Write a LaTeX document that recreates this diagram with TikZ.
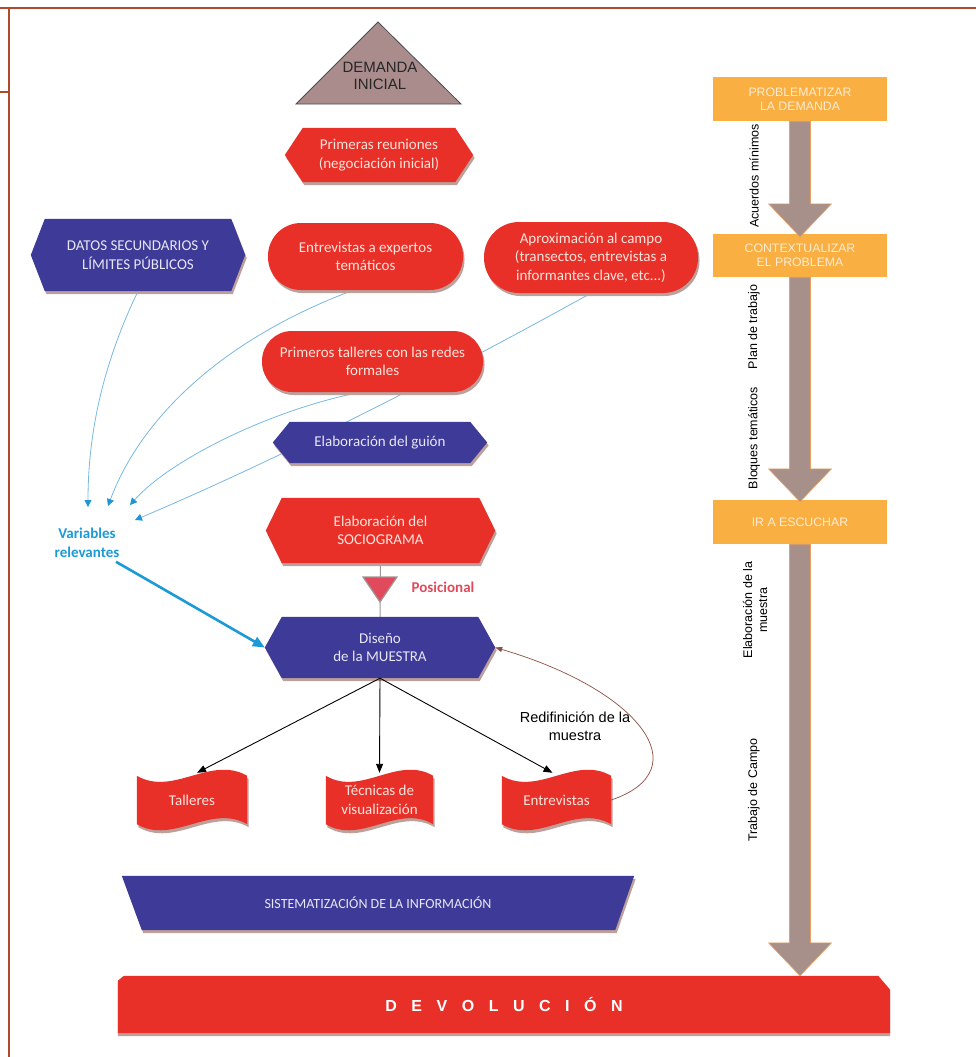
\documentclass[tikz,border=0pt]{standalone}
\usepackage{fontspec}
\setmainfont{Carlito}
\newfontfamily\arialf{Liberation Sans}
\usetikzlibrary{arrows.meta,calc,shadows}
\definecolor{redc}{RGB}{232,48,40}
\definecolor{redtext}{RGB}{252,228,220}
\definecolor{bluec}{RGB}{62,58,152}
\definecolor{bluetext}{RGB}{232,230,245}
\definecolor{orangec}{RGB}{249,175,66}
\definecolor{orangetext}{RGB}{253,236,210}
\definecolor{grayarr}{RGB}{168,144,138}
\definecolor{grayedge}{RGB}{232,160,100}
\definecolor{shadowc}{RGB}{190,160,155}
\definecolor{lblue}{RGB}{120,185,225}
\definecolor{tipblue}{RGB}{30,150,214}
\definecolor{varblue}{RGB}{28,154,216}
\definecolor{framec}{RGB}{176,74,42}
\definecolor{tric}{RGB}{170,140,140}
\definecolor{posc}{RGB}{224,74,92}
\definecolor{brownc}{RGB}{140,80,65}
\definecolor{graylinec}{RGB}{160,150,150}
\pgfdeclarelayer{bgpaper}
\pgfdeclarelayer{lines}
\pgfdeclarelayer{shapes}
\pgfsetlayers{bgpaper,lines,shapes,main}
\newcommand\hexshape[3]{%
 \begin{pgfonlayer}{shapes}
 \fill[shadowc,transform canvas={shift={(1.5pt,-3pt)}}] (#1.west) -- ($(#1.north west)+(#2,0)$) -- ($(#1.north east)+(-#2,0)$) -- (#1.east) -- ($(#1.south east)+(-#2,0)$) -- ($(#1.south west)+(#2,0)$) -- cycle;
 \fill[#3] (#1.west) -- ($(#1.north west)+(#2,0)$) -- ($(#1.north east)+(-#2,0)$) -- (#1.east) -- ($(#1.south east)+(-#2,0)$) -- ($(#1.south west)+(#2,0)$) -- cycle;
 \end{pgfonlayer}}
\newcommand\waveshape[1]{%
 \begin{pgfonlayer}{shapes}
 \fill[shadowc,transform canvas={shift={(1.5pt,-3pt)}}] (#1.north west) .. controls ($(#1.north west)!0.333!(#1.north east)+(0,21)$) and ($(#1.north west)!0.667!(#1.north east)+(0,-21)$) .. (#1.north east) -- (#1.south east) .. controls ($(#1.south west)!0.667!(#1.south east)+(0,-21)$) and ($(#1.south west)!0.333!(#1.south east)+(0,21)$) .. (#1.south west) -- cycle;
 \fill[redc] (#1.north west) .. controls ($(#1.north west)!0.333!(#1.north east)+(0,21)$) and ($(#1.north west)!0.667!(#1.north east)+(0,-21)$) .. (#1.north east) -- (#1.south east) .. controls ($(#1.south west)!0.667!(#1.south east)+(0,-21)$) and ($(#1.south west)!0.333!(#1.south east)+(0,21)$) .. (#1.south west) -- cycle;
 \end{pgfonlayer}}
\newcommand\fatarrow[2]{%
 \path[fill=grayarr, draw=grayedge, line width=0.6pt] let \p1=(#1), \p2=(#2) in (\x1-10.5pt,\y1) -- (\x1-10.5pt,\y2+33pt) -- (\x1-31.5pt,\y2+33pt) -- (\x1,\y2) -- (\x1+31.5pt,\y2+33pt) -- (\x1+10.5pt,\y2+33pt) -- (\x1+10.5pt,\y1) -- cycle;}
\newcommand\gapx{\hspace{14.5pt}}
\tikzset{
 redtxt/.style={text=redtext, align=center, font=\fontsize{15}{18.5}\selectfont},
 bluetxt/.style={text=bluetext, align=center, font=\fontsize{15}{18.5}\selectfont},
 hexbox/.style 2 args={rectangle, inner sep=0, minimum width=#1, minimum height=#2},
 stadium/.style 2 args={rectangle, inner sep=0, minimum width=#1, minimum height=#2, fill=redc, rounded corners=#2/2-0.5, drop shadow={shadow xshift=1.5pt, shadow yshift=-3pt, fill=shadowc, opacity=1}, redtxt},
 obox/.style={rectangle, inner sep=0, minimum width=174, minimum height=44, fill=orangec, text=orangetext, align=center, font=\arialf\fontsize{12.3}{14}\selectfont},
 rotlab/.style={rotate=90, inner sep=0, align=center, font=\arialf\fontsize{12.5}{15}\selectfont},
 lbarrow/.style={draw=lblue, line width=0.8pt, -{Triangle[length=7pt,width=7pt,fill=tipblue,color=tipblue]}},
 blkarrow/.style={draw=black, line width=0.9pt, -{Triangle[length=9pt,width=7pt]}},
}
\begin{document}
\begin{tikzpicture}[x=1pt,y=-1pt]
\useasboundingbox (0,0) rectangle (976,1057);
\begin{pgfonlayer}{bgpaper}
\fill[white] (0,0) rectangle (976,1057);
\end{pgfonlayer}
% frame
\draw[framec, line width=2pt] (0,8) -- (976,8) (9,8) -- (9,1057) (0,92) -- (9,92);
% DEMANDA INICIAL
\filldraw[fill=tric, draw=black!70, line width=0.8pt] (378,22) -- (461,104) -- (296,104) -- cycle;
\node[inner sep=0, align=center, text=black!85, font=\arialf\fontsize{15}{17}\selectfont] (demanda) at (380,76) {DEMANDA\\INICIAL};
% hexagons and boxes
\node[hexbox={188}{54}, redtxt] (prim) at (379,155) {Primeras reuniones\\(negociación inicial)};
\hexshape{prim}{18}{redc}
\node[hexbox={214}{72}, bluetxt] (datos) at (138,255) {DATOS SECUNDARIOS Y\\LÍMITES PÚBLICOS};
\hexshape{datos}{14}{bluec}
\node[stadium={195}{67}] (expert) at (365.5,256.5) {Entrevistas a expertos\\temáticos};
\node[stadium={214}{71}] (aprox) at (591,257.5) {Aproximación al campo\\(transectos, entrevistas a\\informantes clave, etc...)};
\node[stadium={221}{61}] (talleres1) at (372.5,361.5) {Primeros talleres con las redes\\formales};
\node[hexbox={214}{41}, bluetxt] (guion) at (380,442.5) {Elaboración del guión};
\hexshape{guion}{17}{bluec}
\node[hexbox={229}{65}, redtxt] (soc) at (380.5,530.5) {Elaboración del\\SOCIOGRAMA};
\hexshape{soc}{16}{redc}
\node[hexbox={230}{61}, bluetxt] (diseno) at (380,647.5) {Diseño\\de la MUESTRA};
\hexshape{diseno}{17}{bluec}
% Posicional
\begin{pgfonlayer}{lines}
\draw[graylinec, line width=1pt] (soc.south) -- (diseno.north);
\end{pgfonlayer}
\filldraw[fill=posc, draw=graylinec, line width=1.2pt] (363,577) -- (397,577) -- (380,602) -- cycle;
\node[inner sep=0, text=posc, font=\bfseries\fontsize{15}{18}\selectfont] (posic) at (443,587) {Posicional};
% Variables relevantes
\node[inner sep=0, align=center, text=varblue, font=\bfseries\fontsize{15}{18.5}\selectfont] (vars) at (87,543) {Variables\\relevantes};
\coordinate (v1) at (88,507);
\coordinate (v2) at (108,506);
\coordinate (v3) at (130,505);
\coordinate (v4) at (135,520);
\begin{pgfonlayer}{lines}
\draw[lbarrow] (datos.south) .. controls (100,370) and (88,440) .. (v1);
\draw[lbarrow] (expert.250) .. controls (220,340) and (140,420) .. (v2);
\draw[lbarrow] ($(talleres1.south)+(-12,0)$) .. controls (270,410) and (170,460) .. (v3);
\draw[lbarrow] (aprox.south) .. controls (470,360) and (300,450) .. (v4);
\end{pgfonlayer}
\draw[varblue, line width=2.6pt, -{Triangle[length=12pt,width=10pt]}] ($(vars.south east)+(-3.5,4)$) -- (diseno.west);
% bottom wave shapes
\node[hexbox={110}{48}, redtxt] (tall) at (192,800) {Talleres};
\waveshape{tall}
\node[hexbox={107}{48}, redtxt] (tec) at (379.5,800) {Técnicas de\\visualización};
\waveshape{tec}
\node[hexbox={109}{48}, redtxt] (entr) at (556.5,800) {Entrevistas};
\waveshape{entr}
\draw[blkarrow] (diseno.south) -- ($(tall.north)+(5,-3)$);
\draw[blkarrow] (diseno.south) -- ($(tec.north)+(0,-3)$);
\draw[blkarrow] (diseno.south) -- ($(entr.north)+(-4,-3)$);
\draw[brownc, line width=0.7pt, -{Triangle[length=7pt,width=5pt]}] (entr.east) .. controls (700,770) and (640,690) .. (diseno.east);
\node[inner sep=0, align=center, font=\arialf\fontsize{14.5}{18}\selectfont] (redef) at (575,726) {Redifinición de la\\muestra};
% Sistematizacion
\node[hexbox={512}{54}, text=bluetext, font=\fontsize{14}{16}\selectfont] (sist) at (378,903) {SISTEMATIZACIÓN DE LA INFORMACIÓN};
\begin{pgfonlayer}{shapes}
\fill[shadowc,transform canvas={shift={(1.5pt,-3pt)}}] (sist.north west) -- (sist.north east) -- ($(sist.south east)+(-19,0)$) -- ($(sist.south west)+(20,0)$) -- cycle;
\fill[bluec] (sist.north west) -- (sist.north east) -- ($(sist.south east)+(-19,0)$) -- ($(sist.south west)+(20,0)$) -- cycle;
\end{pgfonlayer}
% Devolucion
\node[hexbox={772}{57}, text=white, font=\arialf\bfseries\fontsize{16}{18}\selectfont] (devol) at (504,1004.5) {D\gapx E\gapx V\gapx O\gapx L\gapx U\gapx C\gapx I\gapx Ó\gapx N};
\begin{pgfonlayer}{shapes}
\fill[shadowc,transform canvas={shift={(0pt,-3pt)}}] (devol.south west) -- ($(devol.north west)+(0,5)$) -- ($(devol.north west)+(6,0)$) -- ($(devol.north east)+(-12,0)$) -- ($(devol.north east)+(0,14)$) -- (devol.south east) -- cycle;
\fill[redc] (devol.south west) -- ($(devol.north west)+(0,5)$) -- ($(devol.north west)+(6,0)$) -- ($(devol.north east)+(-12,0)$) -- ($(devol.north east)+(0,14)$) -- (devol.south east) -- cycle;
\end{pgfonlayer}
% right column
\node[obox] (prob) at (800,99) {PROBLEMATIZAR\\LA DEMANDA};
\node[obox, minimum height=43] (ctx) at (800,255.5) {CONTEXTUALIZAR\\EL PROBLEMA};
\node[obox] (ir) at (800,522) {IR A ESCUCHAR};
\coordinate (t1) at ($(ctx.north)+(0,3)$);
\coordinate (t2) at ($(ir.north)+(0,2)$);
\coordinate (t3) at (ir.south |- devol.north);
\fatarrow{prob.south}{t1}
\fatarrow{ctx.south}{t2}
\fatarrow{ir.south}{t3}
\node[rotlab] (acu) at (754,176) {Acuerdos mínimos};
\node[rotlab] (plan) at (754,327) {Plan de trabajo};
\node[rotlab] (bloq) at (754,438) {Bloques temáticos};
\node[rotlab] (elab) at (755,610) {Elaboración de la\\muestra};
\node[rotlab] (trab) at (754,790) {Trabajo de Campo};
\end{tikzpicture}
\end{document}
